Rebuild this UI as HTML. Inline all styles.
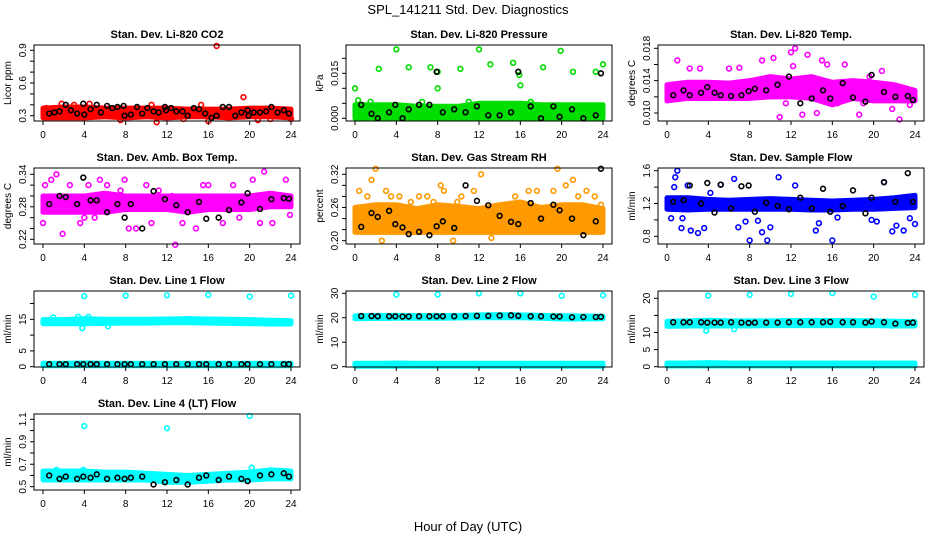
<!DOCTYPE html>
<html><head><meta charset="utf-8">
<style>
html,body{margin:0;padding:0;background:#fff;}
svg{display:block;font-family:"Liberation Sans",sans-serif;}
</style></head>
<body>
<svg id="chart" width="936" height="540" viewBox="0 0 936 540">
<text x="468" y="14" text-anchor="middle" font-size="13">SPL_141211  Std. Dev. Diagnostics</text>
<text x="468" y="531" text-anchor="middle" font-size="13">Hour of Day (UTC)</text>
</svg>
<script>
// ---- shared data ----
const envHours = [0,2,4,6,8,10,12,14,16,18,20,22,24];
const blackHours46 = [0.6,1.1,1.6,2.2,2.7,3.3,3.9,4,4.6,5.2,5.6,6.2,6.7,7.2,7.8,7.9,8.5,9.1,9.6,10.1,10.7,11.2,11.8,11.9,12.4,12.9,13.5,14,14.6,15.1,15.7,16.3,16.8,17.4,18,18.6,19.2,19.8,19.9,20.4,21,21.6,22.1,22.7,23.3,23.8];
const blackHours26 = [0.6,1.6,2.2,3.3,3.9,4.6,5.2,6.2,7.2,7.9,8.5,9.6,10.7,11.8,12.9,14,15.1,15.8,17,18,19.2,19.8,21,22.1,23.3,23.8];
const xTicks = [0,4,8,12,16,20,24];

// P1 CO2
const co2Lo = [0.28,0.28,0.28,0.29,0.28,0.29,0.28,0.29,0.29,0.28,0.29,0.29,0.28];
const co2Hi = [0.37,0.38,0.38,0.37,0.37,0.37,0.37,0.36,0.36,0.36,0.37,0.37,0.36];
const co2ExtraH = [16.8,19.4,11,16,7.5,1.8,24,3,10.5,15.3,4.5,20.8,22,0.3,13.6];
const co2ExtraV = [0.94,0.47,0.24,0.25,0.26,0.41,0.27,0.4,0.4,0.4,0.41,0.26,0.27,0.37,0.27];
const co2Black = [0.32,0.33,0.34,0.4,0.35,0.32,0.41,0.31,0.36,0.4,0.33,0.39,0.37,0.38,0.39,0.3,0.31,0.38,0.32,0.37,0.34,0.33,0.38,0.35,0.37,0.34,0.34,0.3,0.37,0.36,0.32,0.28,0.3,0.38,0.38,0.3,0.33,0.35,0.3,0.33,0.33,0.34,0.38,0.33,0.35,0.32];
// P2 Pressure
const prLo = [0,0,0,0,0,0,0,0,0,0,0,0,0];
const prHi = [0.0045,0.0045,0.0045,0.004,0.004,0.004,0.005,0.005,0.005,0.0045,0.0045,0.0045,0.0045];
const prExtraH = [0,2.3,4,5.2,7.3,8,8,10.2,12,13.1,15.3,16,15.9,18.2,19.9,21.1,23.3,24,17,0.3,1.5,6.5,11];
const prExtraV = [0.010,0.0165,0.023,0.017,0.017,0.0155,0.010,0.0165,0.023,0.018,0.0185,0.011,0.0145,0.017,0.0225,0.0155,0.0155,0.018,0.0055,0.006,0.0055,0.0055,0.0055];
const prBlack = [0.0045,0.0015,0,0.002,0.0045,0,0.003,0.0045,0.0045,0.0155,0.002,0.003,0.002,0.004,0.001,0.001,0.002,0.0155,0.004,0,0.004,0.0005,0.003,0,0.001,0.015];
// P3 Li-820 temp
const ltLo = [0.0115,0.0118,0.0118,0.0118,0.0118,0.012,0.012,0.0118,0.011,0.0118,0.0115,0.0115,0.0115];
const ltHi = [0.0135,0.0138,0.0138,0.0137,0.014,0.0145,0.0142,0.0145,0.0138,0.014,0.0138,0.0135,0.0128];
const ltExtraH = [1,2.2,3.2,6,7,9.2,10.3,10.9,12,12.4,13.6,13.1,14.5,15,15.5,17.2,18.6,19.6,20.8,21.8,22.5,12.2,11.5,16.5,19,23.5];
const ltExtraV = [0.0165,0.0155,0.0155,0.0155,0.0156,0.0165,0.0168,0.0095,0.0175,0.018,0.0172,0.0098,0.01,0.0165,0.016,0.016,0.0098,0.0145,0.0152,0.0105,0.0092,0.0158,0.0112,0.0112,0.0112,0.011];
const ltBlack = [0.0122,0.0128,0.0122,0.0125,0.0132,0.0125,0.0122,0.0121,0.0122,0.0127,0.0130,0.0128,0.0135,0.0145,0.0112,0.0118,0.0128,0.0118,0.0137,0.0119,0.0114,0.0147,0.0126,0.012,0.0121,0.0116];
// P4 Amb box temp
const btLo = [0.27,0.27,0.27,0.27,0.275,0.275,0.275,0.27,0.275,0.275,0.275,0.28,0.28];
const btHi = [0.3,0.3,0.3,0.305,0.3,0.3,0.3,0.3,0.3,0.3,0.3,0.305,0.3];
const btExtraH = [0,0.2,0.8,1.3,1.9,2.6,3.6,4.4,5,5.5,6.2,7.5,7.9,9,10,10.5,11.2,12.8,13.5,14.8,15.5,16,17.4,18.4,19,20.3,21,21.4,22.2,23.5,23.9,4,8.3,12.5];
const btExtraV = [0.25,0.32,0.33,0.34,0.23,0.32,0.25,0.32,0.26,0.33,0.32,0.31,0.33,0.24,0.32,0.25,0.31,0.21,0.25,0.24,0.32,0.32,0.25,0.32,0.26,0.33,0.25,0.345,0.25,0.33,0.265,0.26,0.24,0.3];
const btBlack = [0.285,0.3,0.298,0.285,0.334,0.292,0.292,0.27,0.285,0.26,0.285,0.24,0.309,0.294,0.283,0.27,0.289,0.258,0.26,0.274,0.288,0.305,0.276,0.294,0.296,0.295];
// P5 Gas stream RH
const rhLo = [0.215,0.215,0.215,0.215,0.215,0.215,0.215,0.215,0.215,0.215,0.215,0.215,0.215];
const rhHi = [0.26,0.265,0.265,0.258,0.265,0.262,0.258,0.265,0.27,0.26,0.265,0.265,0.258];
const rhExtraH = [0.4,1.2,1.6,2,3,3.5,4.3,5.4,6.2,7,7.6,8.3,8.6,9.5,10.3,11.5,12.2,13.2,15.5,16.8,17.6,19.2,19.6,20.4,21.1,21.6,22.4,23.2,23.8,9.9,2.6];
const rhExtraV = [0.29,0.28,0.31,0.33,0.29,0.28,0.28,0.27,0.28,0.28,0.27,0.3,0.29,0.2,0.28,0.29,0.32,0.205,0.28,0.29,0.29,0.29,0.33,0.3,0.31,0.28,0.29,0.28,0.265,0.27,0.2];
const rhBlack = [0.225,0.25,0.243,0.254,0.23,0.224,0.212,0.216,0.21,0.226,0.235,0.223,0.3,0.272,0.264,0.245,0.234,0.23,0.268,0.24,0.265,0.255,0.24,0.21,0.235,0.33];
// P6 Sample flow
const sfLo = [1.13,1.12,1.13,1.13,1.13,1.13,1.13,1.12,1.12,1.13,1.13,1.14,1.15];
const sfHi = [1.27,1.27,1.25,1.24,1.25,1.26,1.25,1.24,1.23,1.24,1.25,1.27,1.3];
const sfExtraH = [0.4,0.8,1,1.4,2,2.3,3,3.6,4.2,5.2,6.5,6.9,7.6,8,8.8,9.2,9.7,10,10.8,12.4,14.4,14.7,16,16.5,19.8,20.3,21,21.8,22.2,22.9,23.5,24,1.5,0.7];
const sfExtraV = [1.02,1.52,1.6,0.9,1.42,0.87,0.84,0.9,1.33,1.43,1.5,0.91,0.98,0.75,0.99,0.85,0.75,0.91,1.52,1.42,0.87,0.96,0.75,1.03,1.0,0.98,1.46,0.86,0.93,0.87,1.02,0.95,1.02,1.4];
const sfBlack = [1.22,1.24,1.42,1.2,1.45,1.09,1.43,1.14,1.41,1.42,1.1,1.21,1.17,1.13,1.27,1.14,1.38,1.1,1.17,1.36,1.08,1.27,1.46,1.22,1.57,1.22];
// P7 Line 1
const l1HiLo = [13.6,13.6,13.6,13.7,13.8,13.8,13.9,13.9,13.8,13.7,13.6,13.5,13.5];
const l1HiHi = [14.9,14.9,15.2,15,15,15,15.1,15.2,15.1,15,14.9,14.7,14.6];
const l1LoLo = [0.3,0.3,0.3,0.3,0.3,0.3,0.3,0.3,0.3,0.3,0.3,0.3,0.3];
const l1LoHi = [1.1,1.1,1.2,1.1,1.1,1.1,1.1,1.1,1.1,1.1,1.1,1.1,1.1];
const l1ExtraH = [4,8,12,16,20,24,3.8,4.4,6.3,1,3.4];
const l1ExtraV = [22.3,22.5,22.6,22.7,22.2,22.5,12.2,15.8,12.8,15.6,15.8];
const l1Black = [0.8,0.8,0.8,0.8,0.8,0.8,0.8,0.8,0.8,0.8,0.8,0.8,0.8,0.8,0.8,0.8,0.8,0.8,0.8,0.8,0.8,0.8,0.8,0.8,0.8,0.8];
// P8 Line 2
const l2HiLo = [19.6,19.7,19.8,19.8,19.8,19.9,20,20,20,19.8,19.5,19.5,19.6];
const l2HiHi = [20.8,21,21,20.9,20.9,21,21.2,21.3,21.2,21,20.8,20.7,20.6];
const l2LoLo = [0.2,0.2,0.2,0.2,0.2,0.2,0.2,0.2,0.2,0.2,0.2,0.2,0.2];
const l2LoHi = [1.4,1.4,1.5,1.4,1.4,1.4,1.4,1.4,1.4,1.4,1.4,1.4,1.4];
const l2ExtraH = [4,8,12,16,20,24];
const l2ExtraV = [29.5,29.5,30,30,29,29.2];
const l2Black = [20.7,20.7,20.6,20.6,20.6,20.5,20.5,20.6,20.6,20.6,20.6,20.6,20.7,20.8,20.8,20.9,21,20.8,20.6,20.6,20.5,20.5,20.2,20.3,20.3,20.4];
// P9 Line 3
const l3HiLo = [11.8,11.9,11.9,11.9,11.9,12,12,12,12,12,12,11.9,11.9];
const l3HiHi = [13.3,13.4,13.6,13.4,13.4,13.4,13.5,13.5,13.5,13.5,13.4,13.3,13.2];
const l3LoLo = [0.2,0.2,0.2,0.2,0.2,0.2,0.2,0.2,0.2,0.2,0.2,0.2,0.2];
const l3LoHi = [1.1,1.1,1.2,1.1,1.1,1.1,1.1,1.1,1.1,1.1,1.1,1.1,1.1];
const l3ExtraH = [4,8,12,16,20,24,3.8,6.5,21.8];
const l3ExtraV = [20.8,21,21.3,21.5,20.5,21,10.5,11,12];
const l3Black = [13,13,13,13,12.9,12.9,12.9,13,12.9,12.8,12.9,12.9,12.9,13,13,13,13,13.1,13,13,12.9,13.2,13,12.6,12.8,12.9];
// P10 Line 4
const l4Lo = [0.56,0.56,0.56,0.56,0.56,0.56,0.54,0.54,0.55,0.56,0.56,0.57,0.57];
const l4Hi = [0.64,0.64,0.64,0.63,0.63,0.62,0.61,0.6,0.61,0.62,0.63,0.65,0.64];
const l4ExtraH = [4,12,20,20.2,1.3,3.9];
const l4ExtraV = [1.04,1.02,1.13,0.67,0.65,0.65];
const l4Black = [0.6,0.57,0.59,0.57,0.59,0.58,0.61,0.57,0.58,0.57,0.58,0.59,0.52,0.54,0.56,0.52,0.58,0.6,0.56,0.59,0.57,0.55,0.6,0.61,0.62,0.59];

// ---- layout (not data) ----
const NS = "http://www.w3.org/2000/svg";
const svg = document.getElementById('chart');
const colX0 = [34,346,658];
const rowY0 = [0,123,246,369];

const panels = [
 {name:'co2',title:'Stan. Dev. Li-820 CO2',ylab:'Licor ppm',col:0,row:0,color:'#ff0000',v1:0.9,p1:50.3,v2:0.3,p2:115.7,yt:[0.3,0.4,0.5,0.6,0.7,0.8,0.9],yl:[0.3,0.6,0.9],dec:1,bands:[[co2Lo,co2Hi]],eh:co2ExtraH,ev:co2ExtraV,bh:blackHours46,bv:co2Black},
 {name:'pressure',title:'Stan. Dev. Li-820 Pressure',ylab:'kPa',col:1,row:0,color:'#00dd00',v1:0.015,p1:73.3,v2:0,p2:118.3,yt:[0,0.005,0.01,0.015,0.02],yl:[0,0.015],dec:3,bands:[[prLo,prHi]],eh:prExtraH,ev:prExtraV,bh:blackHours26,bv:prBlack},
 {name:'li820-temp',title:'Stan. Dev. Li-820 Temp.',ylab:'degrees C',col:2,row:0,color:'#ff00ff',v1:0.018,p1:48.3,v2:0.010,p2:113,yt:[0.01,0.012,0.014,0.016,0.018],yl:[0.01,0.014,0.018],dec:3,bands:[[ltLo,ltHi]],eh:ltExtraH,ev:ltExtraV,bh:blackHours26,bv:ltBlack},
 {name:'box-temp',title:'Stan. Dev. Amb. Box Temp.',ylab:'degrees C',col:0,row:1,color:'#ff00ff',v1:0.34,p1:51.3,v2:0.22,p2:116.3,yt:[0.22,0.24,0.26,0.28,0.3,0.32,0.34],yl:[0.22,0.28,0.34],dec:2,bands:[[btLo,btHi]],eh:btExtraH,ev:btExtraV,bh:blackHours26,bv:btBlack},
 {name:'gas-rh',title:'Stan. Dev. Gas Stream RH',ylab:'percent',col:1,row:1,color:'#ff9900',v1:0.32,p1:51.3,v2:0.20,p2:117.7,yt:[0.2,0.22,0.24,0.26,0.28,0.3,0.32],yl:[0.2,0.26,0.32],dec:2,bands:[[rhLo,rhHi]],eh:rhExtraH,ev:rhExtraV,bh:blackHours26,bv:rhBlack},
 {name:'sample-flow',title:'Stan. Dev. Sample Flow',ylab:'ml/min',col:2,row:1,color:'#0000ff',v1:1.6,p1:47.7,v2:0.8,p2:113.3,yt:[0.8,1.0,1.2,1.4,1.6],yl:[0.8,1.2,1.6],dec:1,bands:[[sfLo,sfHi]],eh:sfExtraH,ev:sfExtraV,bh:blackHours26,bv:sfBlack},
 {name:'line1-flow',title:'Stan. Dev. Line 1 Flow',ylab:'ml/min',col:0,row:2,color:'#00ffff',v1:15,p1:73.3,v2:0,p2:120.7,yt:[0,5,10,15,20],yl:[0,5,15],dec:0,bands:[[l1HiLo,l1HiHi],[l1LoLo,l1LoHi]],eh:l1ExtraH,ev:l1ExtraV,bh:blackHours26,bv:l1Black},
 {name:'line2-flow',title:'Stan. Dev. Line 2 Flow',ylab:'ml/min',col:1,row:2,color:'#00ffff',v1:30,p1:47.3,v2:0,p2:120.7,yt:[0,10,20,30],yl:[0,10,20,30],dec:0,bands:[[l2HiLo,l2HiHi],[l2LoLo,l2LoHi]],eh:l2ExtraH,ev:l2ExtraV,bh:blackHours26,bv:l2Black},
 {name:'line3-flow',title:'Stan. Dev. Line 3 Flow',ylab:'ml/min',col:2,row:2,color:'#00ffff',v1:20,p1:52.3,v2:0,p2:120.7,yt:[0,5,10,15,20],yl:[0,5,10,20],dec:0,bands:[[l3HiLo,l3HiHi],[l3LoLo,l3LoHi]],eh:l3ExtraH,ev:l3ExtraV,bh:blackHours26,bv:l3Black},
 {name:'line4-flow',title:'Stan. Dev. Line 4 (LT) Flow',ylab:'ml/min',col:0,row:3,color:'#00ffff',v1:1.1,p1:50.3,v2:0.5,p2:117.7,yt:[0.5,0.6,0.7,0.8,0.9,1.0,1.1],yl:[0.5,0.7,0.9,1.1],dec:1,bands:[[l4Lo,l4Hi]],eh:l4ExtraH,ev:l4ExtraV,bh:blackHours26,bv:l4Black}
];

function mk(tag, attrs, parent){
  const e = document.createElementNS(NS, tag);
  for (const k in attrs) e.setAttribute(k, attrs[k]);
  parent.appendChild(e);
  return e;
}

panels.forEach(p => {
  const bx = colX0[p.col], by = rowY0[p.row];
  const left = bx, right = bx + 266, top = by + 45, bottom = by + 121;
  const x0 = bx + 9, x24 = bx + 257;
  const xs = h => x0 + (h/24)*(x24 - x0);
  const ys = v => by + p.p1 + (v - p.v1)*(p.p2 - p.p1)/(p.v2 - p.v1);

  const g = mk('g', {}, svg);
  
  

  const t = mk('text', {x:(left+right)/2, y: by+38, 'text-anchor':'middle','font-size':11,'font-weight':'bold'}, g);
  t.textContent = p.title;
  
  

  const yl = mk('text', {x:0, y:0, 'text-anchor':'middle','font-size':10, transform:`translate(${bx-23},${(top+bottom)/2}) rotate(-90)`}, g);
  yl.textContent = p.ylab;
  
  

  // bands (dense point clouds)
  p.bands.forEach((b, bi) => {
    const lo = b[0], hi = b[1];
    let pts = envHours.map((h,i)=> xs(h)+','+ys(hi[i]));
    pts = pts.concat(envHours.slice().reverse().map((h,j)=>{ const i = envHours.length-1-j; return xs(h)+','+ys(lo[i]); }));
    const poly = mk('polygon', {points: pts.join(' '), fill:p.color, stroke:p.color, 'stroke-width':5, 'stroke-linejoin':'round'}, g);
    
    
  });

  p.eh.forEach((h,i) => {
    const c = mk('circle', {cx: xs(h), cy: ys(p.ev[i]), r:2.4, fill:'none', stroke:p.color, 'stroke-width':1.6}, g);
    
    
  });
  p.bh.forEach((h,i) => {
    const c = mk('circle', {cx: xs(h), cy: ys(p.bv[i]), r:2.4, fill:'none', stroke:'#000', 'stroke-width':1.6}, g);
    
    
  });

  const box = mk('rect', {x:left, y:top, width:right-left, height:bottom-top, fill:'none', stroke:'#000', 'stroke-width':1}, g);
  
  

  xTicks.forEach(h => {
    mk('line', {x1:xs(h), x2:xs(h), y1:bottom, y2:bottom+4, stroke:'#000'}, g);
    const tx = mk('text', {x:xs(h), y:bottom+17, 'text-anchor':'middle','font-size':10}, g);
    tx.textContent = h;
    
    
  });
  p.yt.forEach(v => {
    mk('line', {x1:left-4, x2:left, y1:ys(v), y2:ys(v), stroke:'#000'}, g);
  });
  p.yl.forEach(v => {
    const ty = mk('text', {x:0, y:0, 'text-anchor':'middle','font-size':10, transform:`translate(${left-8},${ys(v)}) rotate(-90)`}, g);
    ty.textContent = v.toFixed(p.dec);
    
    
  });
});
</script>
</body></html>
